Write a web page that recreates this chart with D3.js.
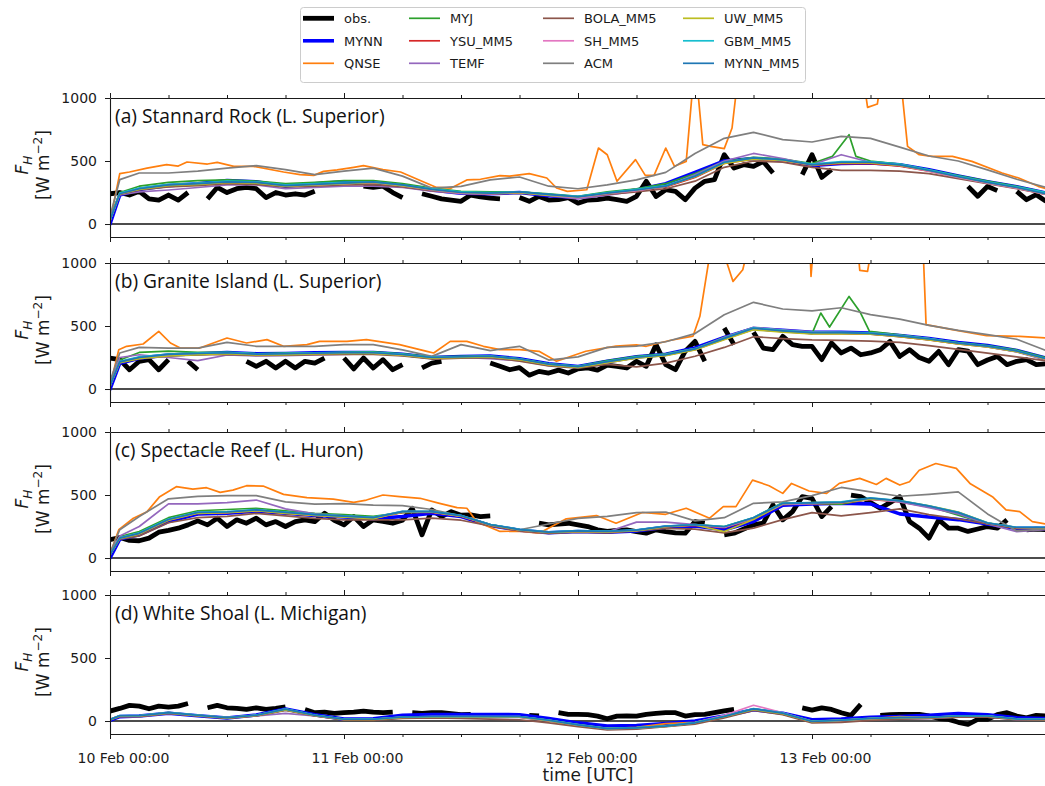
<!DOCTYPE html>
<html><head><meta charset="utf-8">
<script src="https://cdn.jsdelivr.net/npm/d3@7"></script>
<style>body{margin:0;background:#fff} svg{display:block}</style>
</head><body><svg id="c" width="1045" height="786"></svg>
<script>
// ---------- DATA ----------
const hoursModel = [0,1,3,6,9,12,15,18,21,24,27,30,33,36,39,42,45,48,51,54,57,60,63,66,69,72,75,78,81,84,87,90,93,96];
const hoursObs = d3.range(0, 97);
const seriesNames = ["obs.","MYNN","QNSE","MYJ","YSU_MM5","TEMF","BOLA_MM5","SH_MM5","ACM","UW_MM5","GBM_MM5","MYNN_MM5"];
const seriesColors = ["#000000","#0000ff","#ff7f0e","#2ca02c","#d62728","#9467bd","#8c564b","#e377c2","#7f7f7f","#bcbd22","#17becf","#1f77b4"];
const panelTitles = ["(a) Stannard Rock (L. Superior)","(b) Granite Island (L. Superior)","(c) Spectacle Reef (L. Huron)","(d) White Shoal (L. Michigan)"];
const yTicks = [0, 500, 1000];
const dayTicks = [0, 24, 48, 72];
const dayLabels = ["10 Feb 00:00","11 Feb 00:00","12 Feb 00:00","13 Feb 00:00"];
const minorTicks = [6,12,18,30,36,42,54,60,66,78,84,90];

// Panel (a) Stannard Rock
const obsA = [
240,250,230,260,200,190,230,190,250,null,
200,290,250,280,290,280,210,250,230,240,
230,260,null,null,null,null,300,290,300,250,
210,null,240,220,200,190,180,230,215,206,
200,null,210,180,219,190,193,210,166,190,
193,206,193,180,220,339,219,272,259,193,
285,339,352,550,444,471,458,497,405,null,
null,392,550,370,431,null,null,null,null,null,
null,null,null,null,null,null,null,null,299,220,
299,265,null,259,193,233,180];
const mynnA = [0,230,275,305,320,345,335,300,320,335,330,305,270,245,240,250,225,210,240,270,320,410,500,520,505,465,480,485,470,430,380,335,295,245];
const qnseA = [[0,20],[1,400],[2,413],[3.8,444],[5.8,471],[7,460],[7.9,492],[10,476],[11,489],[12.7,458],[14.7,458],[17.8,413],[19.5,392],[20.9,386],[21.9,418],[23.3,430],[25,450],[26,463],[28,431],[29.8,413],[32,340],[33.5,290],[35,285],[36.6,350],[38,355],[40,384],[41,380],[43,400],[44.8,365],[45.8,286],[46.9,259],[48.9,272],[50.1,603],[51,550],[52,339],[53.9,511],[54.9,386],[55.8,386],[57,603],[57.9,458],[59.1,497],[60,1300],[60.8,630],[61.6,616],[63,598],[63.8,762],[64.6,1300],[77,1300],[77.7,926],[78.7,952],[79.4,1300],[80.9,1300],[81.8,616],[83,550],[84.3,537],[86.4,537],[88.4,497],[91.5,405],[93.2,365],[95.2,299],[96,280]];
const myjA = [[0,40],[1,250],[3,300],[6,330],[9,345],[12,350],[15,340],[18,320],[21,330],[24,345],[27,345],[30,320],[33,285],[36,260],[39,255],[42,255],[45,240],[48,220],[51,255],[54,280],[57,320],[60,400],[63,495],[66,530],[69,515],[72,480],[74.1,537],[75.8,709],[76.5,537],[78,500],[81,475],[84,430],[87,385],[90,340],[93,300],[96,250]];
const ysuA = [30,240,280,305,315,330,325,300,310,320,330,305,270,245,240,250,230,210,240,265,295,370,480,515,500,465,480,480,460,420,370,325,285,235];
const temfA = [30,230,255,270,290,310,310,280,290,300,300,290,260,240,235,250,225,200,230,260,300,390,500,560,520,470,550,490,470,425,375,330,290,240];
const bolaA = [30,235,270,295,305,320,315,295,300,310,315,295,265,245,240,245,230,215,235,255,280,340,450,500,490,450,425,425,420,400,360,320,280,235];
const shA = [30,240,280,310,320,335,330,305,310,320,330,305,270,245,240,250,230,210,240,265,300,380,490,520,505,470,490,490,465,420,370,325,285,235];
const acmA = [60,352,405,405,420,444,463,431,392,420,444,380,285,299,350,373,300,280,310,350,410,560,680,727,670,651,696,680,610,540,500,430,355,290];
const uwA = [30,240,275,305,315,330,325,300,310,320,330,305,275,250,245,250,230,215,245,270,300,375,480,515,505,470,485,485,465,425,375,330,290,240];
const gbmA = [30,245,285,315,325,340,335,310,320,330,335,310,280,255,250,255,235,220,250,275,305,380,490,525,510,475,495,495,475,430,380,335,295,250];
const mynnMM5A = [30,240,280,310,320,335,330,305,315,325,335,310,275,250,245,255,235,215,245,270,300,380,490,525,510,470,490,490,470,425,375,330,290,240];

// Panel (b) Granite Island
const obsB = [
246,233,153,220,233,153,233,null,220,153,
null,null,null,null,220,180,220,167,220,167,
220,206,246,null,246,160,246,167,233,153,
193,null,167,206,220,null,null,null,null,206,
180,153,170,110,140,127,150,127,160,167,
150,190,180,167,220,180,352,193,153,300,
378,220,null,484,352,null,450,325,312,418,
352,339,339,233,365,286,325,272,286,312,
378,259,312,250,220,299,193,312,300,193,
230,259,193,220,233,193,200];
const mynnB = [0,205,245,270,280,290,280,282,288,290,290,275,250,258,262,240,200,178,220,255,275,325,410,480,465,450,450,445,425,400,368,345,305,245];
const qnseB = [[0,20],[0.9,312],[1.7,339],[3.4,357],[5,458],[6.2,365],[7.2,325],[9.2,325],[12,405],[14,365],[16.1,392],[17.8,339],[20.2,352],[21.5,378],[24.3,378],[26.3,392],[29.7,352],[32.5,299],[33.2,286],[34.9,378],[36.6,378],[38.3,339],[40,312],[42,312],[44,299],[45.8,220],[48.8,300],[51.9,340],[54,350],[55,339],[57.4,385],[59.8,420],[60.5,577],[62,1300],[63.9,854],[64.9,947],[66,1300],[71.7,1300],[71.9,894],[72.3,1300],[76.5,1300],[76.9,942],[77.7,934],[78.5,1300],[83.3,1300],[83.7,511],[86.4,471],[89.9,423],[93.3,418],[96,405]];
const myjB = [[0,30],[1,230],[3,290],[6,300],[9,290],[12,290],[15,280],[18,285],[21,285],[24,290],[27,295],[30,280],[33,255],[36,260],[39,262],[42,240],[45,200],[48,180],[51,225],[54,260],[57,280],[60,320],[63,410],[66,485],[69,465],[72,440],[72.9,603],[73.8,492],[75.8,735],[76.9,616],[77.9,458],[81,430],[84,400],[87,368],[90,345],[93,310],[96,250]];
const ysuB = [25,215,248,270,278,284,273,276,281,284,284,270,246,252,256,233,193,173,212,248,268,312,395,475,455,440,440,435,415,390,358,335,296,236];
const temfB = [30,250,272,250,225,270,262,265,270,275,280,268,240,250,240,225,185,170,205,250,275,320,410,490,470,455,450,445,425,400,365,335,295,230];
const bolaB = [25,210,240,262,270,275,266,268,272,275,275,262,238,245,248,222,183,165,195,175,205,260,330,415,400,390,386,380,370,345,315,285,255,225];
const shB = [25,218,252,270,278,288,276,280,284,288,285,270,250,255,258,236,196,176,214,248,268,314,398,476,458,444,446,440,421,394,360,338,300,238];
const acmB = [60,286,330,325,325,370,339,339,339,352,352,310,259,352,305,339,230,255,330,340,375,440,590,688,635,620,645,590,555,505,465,431,395,305];
const uwB = [25,210,240,262,272,280,270,273,278,282,282,268,244,250,254,232,192,172,210,245,265,310,392,470,452,438,440,435,415,390,358,335,296,238];
const gbmB = [25,220,255,278,285,290,280,283,288,291,291,277,252,258,262,240,200,180,220,255,275,320,405,485,465,450,450,445,425,400,367,343,304,244];
const mynnMM5B = [25,215,250,275,282,288,277,280,285,288,288,274,250,256,260,238,198,178,218,252,272,318,402,482,462,447,447,442,422,397,364,341,302,242];

// Panel (c) Spectacle Reef
const obsC = [
145,163,140,137,158,205,220,237,263,295,
263,316,250,303,276,316,263,289,250,289,
303,289,355,300,263,329,250,303,290,276,
300,395,184,382,329,368,340,342,329,334,
null,null,null,null,276,263,270,276,263,250,
224,211,220,224,210,197,224,210,200,197,
289,276,null,184,197,230,263,276,421,303,
368,487,474,329,408,null,500,487,440,395,
440,487,290,237,158,303,237,237,211,230,
250,237,303,null,224,230,224];
const mynnC = [0,150,185,290,350,355,372,355,338,325,312,330,355,330,258,220,200,210,205,215,245,255,225,290,420,430,435,430,350,325,305,270,235,235];
const qnseC = [[0,30],[0.9,224],[2.4,316],[3.8,368],[5.1,487],[6.8,566],[8.5,547],[9.9,558],[11.3,521],[12.6,539],[14,574],[15.7,571],[17.8,505],[20.2,479],[22.9,468],[25,442],[26.3,460],[28,500],[29.7,487],[31.8,474],[33.8,434],[35.6,400],[36.6,395],[37.6,289],[40,211],[42,214],[44,197],[46.8,311],[49.9,337],[51.9,276],[54.6,361],[57,347],[59.1,395],[61.5,316],[62.9,408],[64.2,408],[65.9,618],[67.6,574],[69,513],[69.9,592],[71.7,532],[73.5,513],[74.8,592],[76.9,632],[78.6,584],[79.6,632],[81,579],[82,605],[83,697],[84.7,750],[86.8,711],[88.2,592],[90.5,487],[91.9,382],[93.3,368],[94.6,289],[96,270]];
const myjC = [30,170,210,320,375,385,395,375,355,345,330,360,365,335,265,225,200,215,210,220,250,265,250,320,440,430,428,470,450,410,340,270,235,240];
const ysuC = [25,155,190,300,355,360,375,355,338,326,314,362,362,330,258,220,202,210,206,218,248,258,240,310,425,430,436,465,445,405,355,272,236,236];
const temfC = [30,175,250,430,430,440,460,390,350,335,320,370,370,335,260,218,195,212,206,285,285,265,245,315,425,430,440,470,445,400,350,270,210,225];
const bolaC = [25,150,175,280,320,330,355,335,315,303,303,303,316,300,255,215,195,205,200,215,235,230,200,237,305,360,335,360,390,345,310,270,240,230];
const shC = [25,160,195,305,360,362,378,358,340,328,316,366,366,333,262,224,205,214,210,220,250,262,245,318,432,436,442,468,452,412,362,278,242,240];
const acmC = [40,224,330,470,489,495,495,445,428,432,420,416,385,335,265,224,270,315,330,360,365,295,320,434,445,495,560,525,490,505,525,350,215,230];
const uwC = [25,155,190,300,355,360,375,355,338,325,312,365,365,333,262,224,204,212,208,218,248,262,210,305,432,440,440,470,455,415,365,280,242,240];
const gbmC = [25,160,200,310,365,368,385,365,346,334,322,370,370,338,266,228,208,218,214,224,254,266,250,322,436,440,445,478,456,414,362,280,244,244];
const mynnMM5C = [25,158,196,306,362,365,382,362,344,332,320,368,368,336,264,226,206,216,212,222,252,264,248,320,434,438,442,475,454,412,360,278,242,242];

// Panel (d) White Shoal
const obsD = [
79,100,124,118,97,118,110,118,139,null,
105,124,105,100,92,105,92,100,113,null,
92,66,70,61,66,70,79,70,66,71,
null,66,60,66,66,58,50,53,null,null,
null,null,null,45,40,null,66,53,53,50,
39,18,39,40,39,53,60,66,66,39,
50,53,66,80,92,null,null,null,34,null,
null,105,87,105,92,66,45,132,null,45,
50,53,53,53,40,20,13,-10,-26,13,
13,50,66,39,26,45,40];
const mynnD = [5,35,40,62,42,24,48,95,50,15,18,45,52,52,52,50,20,-15,-40,-35,-20,0,40,90,62,10,15,30,35,45,60,50,25,20];
const qnseD = [10,38,38,62,42,24,42,90,42,10,10,28,30,30,30,30,0,-35,-60,-50,-20,-10,35,95,60,-5,5,20,36,28,35,35,15,13];
const myjD = [10,40,42,66,45,26,45,92,45,13,13,30,34,34,34,34,5,-30,-62,-55,-40,-15,35,95,60,-5,5,18,26,28,39,39,15,13];
const ysuD = [12,42,40,64,44,25,44,90,44,12,12,30,32,32,32,32,3,-32,-60,-56,-42,-16,33,93,58,-6,4,18,24,26,37,37,14,12];
const temfD = [10,36,35,60,40,22,40,60,40,10,10,25,28,28,28,28,0,-35,-65,-60,-40,-18,30,90,55,-8,0,10,15,18,30,30,10,10];
const bolaD = [8,35,35,60,40,20,40,85,40,8,5,20,25,20,15,10,-15,-45,-70,-65,-45,-25,25,85,50,-15,-10,5,15,20,30,30,10,10];
const shD = [12,42,42,68,46,27,47,94,46,14,14,31,35,35,35,35,6,-30,-60,-55,-40,-12,45,125,65,-3,6,20,27,29,40,40,16,14];
const acmD = [10,40,42,66,45,28,45,90,45,15,15,30,34,34,34,34,5,-28,-58,-52,-38,-12,38,92,62,0,8,22,28,30,40,40,18,14];
const uwD = [10,40,40,64,44,25,44,88,44,12,12,28,32,32,32,32,3,-32,-60,-55,-42,-14,35,92,58,-5,4,18,25,27,38,38,14,12];
const gbmD = [12,44,44,68,47,28,48,96,48,15,15,32,36,36,36,36,7,-28,-58,-52,-38,-12,38,98,64,-2,7,22,28,30,42,42,17,15];
const mynnMM5D = [10,42,42,66,46,27,46,94,46,14,14,32,36,36,36,36,6,-30,-60,-54,-40,-14,36,96,62,-4,6,20,27,29,40,40,16,14];

const panels = [
  [obsA, mynnA, qnseA, myjA, ysuA, temfA, bolaA, shA, acmA, uwA, gbmA, mynnMM5A],
  [obsB, mynnB, qnseB, myjB, ysuB, temfB, bolaB, shB, acmB, uwB, gbmB, mynnMM5B],
  [obsC, mynnC, qnseC, myjC, ysuC, temfC, bolaC, shC, acmC, uwC, gbmC, mynnMM5C],
  [obsD, mynnD, qnseD, myjD, ysuD, temfD, bolaD, shD, acmD, uwD, gbmD, mynnMM5D]
];

// ---------- LAYOUT / STYLE ----------
const svg = d3.select("#c");
const X0 = 110, X1 = 1046;
const panelTops = [98, 263, 432, 595];
const panelH = 139;
const x = d3.scaleLinear().domain([0, 96]).range([X0, X1]);
const widthOf = i => i === 0 ? 4.8 : (i === 1 ? 3.6 : 1.7);
const TICKFONT = "DejaVu Sans, sans-serif";
const ink = "#1a1a1a";

function toPoints(s, hours) {
  return Array.isArray(s[0]) ? s : s.map((v, i) => [hours[i], v]);
}

panels.forEach((series, pi) => {
  const top = panelTops[pi];
  const y = d3.scaleLinear().domain([-103, 1000]).range([top + panelH, top]);
  const cid = "clip" + pi;
  svg.append("clipPath").attr("id", cid)
    .append("rect").attr("x", X0).attr("y", top).attr("width", X1 - X0).attr("height", panelH);

  const g = svg.append("g");
  g.append("line").attr("x1", X0).attr("x2", X1).attr("y1", y(0)).attr("y2", y(0))
    .attr("stroke", "#111").attr("stroke-width", 1.3);

  const line = d3.line().defined(d => d[1] !== null).x(d => x(d[0])).y(d => y(d[1]));
  const lg = g.append("g").attr("clip-path", `url(#${cid})`);
  series.forEach((s, si) => {
    const pts = toPoints(s, si === 0 ? hoursObs : hoursModel);
    lg.append("path").datum(pts)
      .attr("d", line)
      .attr("fill", "none")
      .attr("stroke", seriesColors[si])
      .attr("stroke-width", widthOf(si))
      .attr("stroke-linejoin", "round")
      .attr("stroke-linecap", si === 0 ? "butt" : "round");
  });

  const styleAxis = sel => {
    sel.selectAll("path.domain").attr("stroke", ink).attr("stroke-width", 1.1);
    sel.selectAll(".tick line").attr("stroke", ink).attr("stroke-width", 1);
    sel.selectAll("text").attr("font-family", TICKFONT).attr("font-size", 14).attr("fill", ink);
  };
  g.append("g").attr("transform", `translate(${X0},0)`)
    .call(d3.axisLeft(y).tickValues(yTicks).tickSize(5).tickSizeOuter(0).tickPadding(8).tickFormat(d3.format("d")))
    .call(styleAxis);
  const isLast = pi === panels.length - 1;
  const xb = g.append("g").attr("transform", `translate(0,${top + panelH})`)
    .call(d3.axisBottom(x).tickValues(dayTicks).tickSize(5).tickSizeOuter(0).tickPadding(14)
      .tickFormat((d, i) => isLast ? dayLabels[i] : ""))
    .call(styleAxis);
  xb.selectAll("text").attr("dx", 13);
  g.append("g").attr("transform", `translate(0,${top + panelH})`)
    .call(d3.axisBottom(x).tickValues(minorTicks).tickSize(3).tickSizeOuter(0).tickFormat(""))
    .call(styleAxis).select("path.domain").remove();
  g.append("g").attr("transform", `translate(0,${top})`)
    .call(d3.axisTop(x).tickValues(dayTicks).tickSize(5).tickSizeOuter(0).tickFormat(""))
    .call(styleAxis);
  g.append("g").attr("transform", `translate(0,${top})`)
    .call(d3.axisTop(x).tickValues(minorTicks).tickSize(3).tickSizeOuter(0).tickFormat(""))
    .call(styleAxis).select("path.domain").remove();
  g.append("line").attr("x1", X1).attr("x2", X1).attr("y1", top).attr("y2", top + panelH)
    .attr("stroke", ink).attr("stroke-width", 1.1);

  g.append("text").attr("x", 115).attr("y", top + 25)
    .attr("font-family", "'Open Sans', 'Noto Sans', sans-serif").attr("font-size", 19.2)
    .attr("fill", "#111").text(panelTitles[pi]);

  const yl = g.append("g").attr("transform", `translate(0,${top + 67}) rotate(-90)`);
  const t1 = yl.append("text").attr("x", 0).attr("y", 28).attr("text-anchor", "middle")
    .attr("font-family", TICKFONT).attr("font-size", 17).attr("fill", ink);
  t1.append("tspan").attr("font-style", "italic").text("F");
  t1.append("tspan").attr("font-style", "italic").attr("font-size", 12).attr("dy", 4).text("H");
  const t2 = yl.append("text").attr("x", 0).attr("y", 48.5).attr("text-anchor", "middle")
    .attr("font-family", TICKFONT).attr("font-size", 17).attr("fill", ink);
  t2.append("tspan").text("[W m");
  t2.append("tspan").attr("font-size", 12).attr("dy", -7).text("\u22122");
  t2.append("tspan").attr("dy", 7).text("]");
});

svg.append("text").attr("x", 588).attr("y", 781).attr("text-anchor", "middle")
  .attr("font-family", TICKFONT).attr("font-size", 17).attr("fill", ink).text("time [UTC]");

const lgd = svg.append("g");
lgd.append("rect").attr("x", 300.5).attr("y", 7.5).attr("width", 505).attr("height", 75).attr("rx", 3)
  .attr("fill", "#fff").attr("stroke", "#cccccc").attr("stroke-width", 1);
const colX = [303, 409, 543, 683];
const rowY = [18.3, 40.8, 63.3];
seriesNames.forEach((name, i) => {
  const c = Math.floor(i / 3), r = i % 3;
  lgd.append("line").attr("x1", colX[c]).attr("x2", colX[c] + 31)
    .attr("y1", rowY[r]).attr("y2", rowY[r])
    .attr("stroke", seriesColors[i]).attr("stroke-width", widthOf(i));
  lgd.append("text").attr("x", colX[c] + 41).attr("y", rowY[r] + 4.8)
    .attr("font-family", TICKFONT).attr("font-size", 13).attr("fill", ink).text(name);
});
</script>
</body></html>
